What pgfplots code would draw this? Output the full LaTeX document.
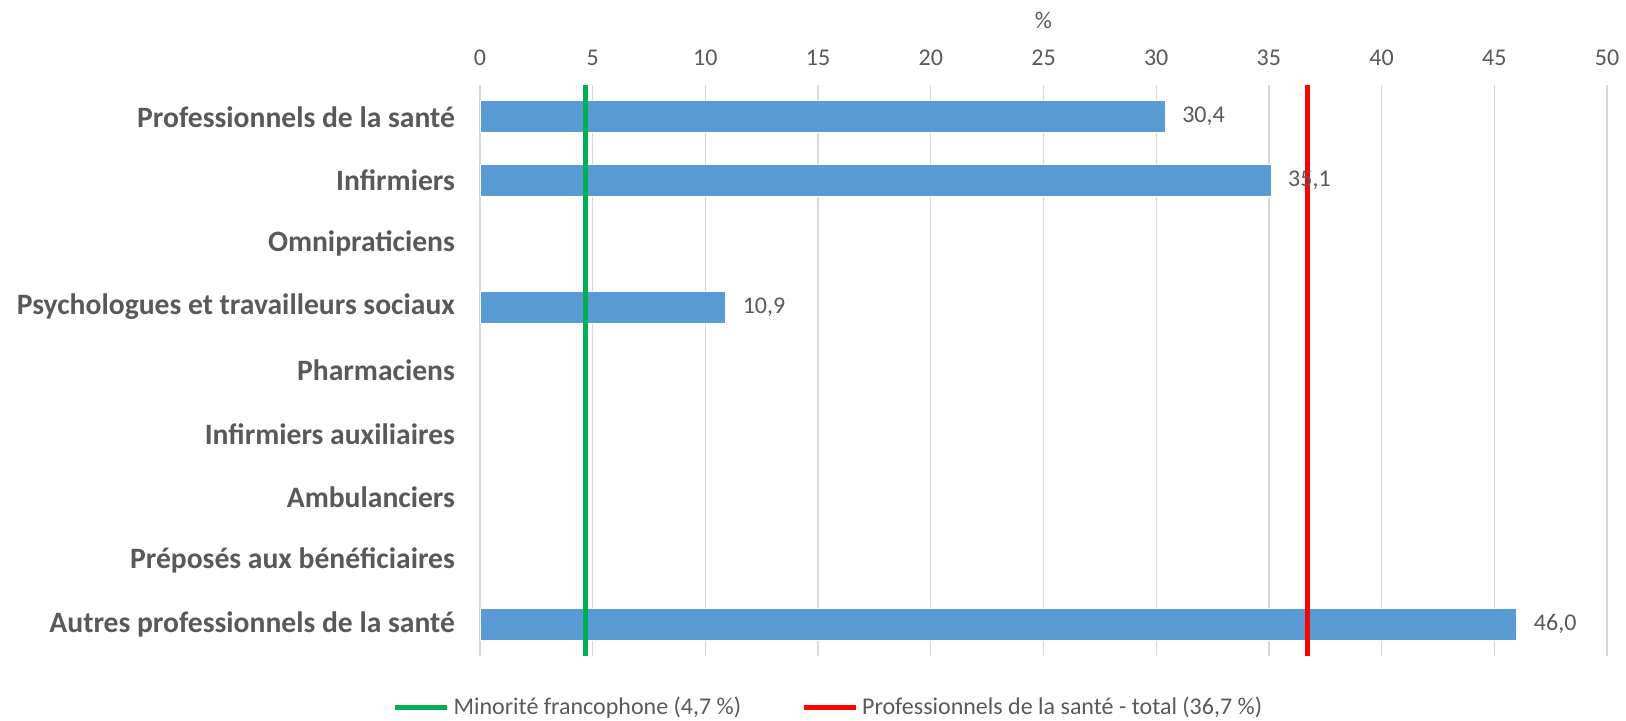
\documentclass[border=0pt]{standalone}
\usepackage{fontspec}
\setmainfont{Carlito}
\usepackage{pgfplots}
\pgfplotsset{compat=1.18}
\definecolor{txt}{HTML}{595959}
\definecolor{barblue}{HTML}{5B9BD5}
\definecolor{gridc}{HTML}{D9D9D9}
\definecolor{mingreen}{HTML}{00B050}
\definecolor{totred}{HTML}{FF0000}

\begin{document}
\begin{tikzpicture}
\begin{axis}[
  name=ax, scale only axis, width=563.5pt, height=285.5pt,
  xmin=0, xmax=50, ymin=-0.5, ymax=8.5, y dir=reverse,
  xtick={0,5,...,50}, xticklabel pos=upper,
  ytick={0,1,...,8},
  yticklabels={Professionnels de la santé, Infirmiers, Omnipraticiens,
    Psychologues et travailleurs sociaux, Pharmaciens, Infirmiers auxiliaires,
    Ambulanciers, Préposés aux bénéficiaires, Autres professionnels de la santé},
  yticklabel style={font=\fontsize{14.8}{17}\selectfont\bfseries, text=txt, xshift=-9pt},
  xticklabel style={font=\fontsize{12}{14}\selectfont, text=txt, yshift=6pt},
  /pgf/number format/assume math mode=true,
  xlabel={\%}, xlabel style={font=\fontsize{12}{14}\selectfont, text=txt, yshift=4pt},
  xmajorgrids, grid style={gridc, line width=0.6pt},
  tick style={draw=none}, axis line style={draw=none},
  legend columns=2,
  legend style={draw=none, fill=none, font=\fontsize{12}{14}\selectfont, text=txt,
    at={(axis description cs:0.31,-0.09)}, anchor=center,
    /tikz/every even column/.append style={column sep=28pt}},
  legend image code/.code={\draw[#1] (0pt,0pt) -- (26pt,0pt);},
]
\addplot[xbar, bar width=15.85pt, fill=barblue, draw=white, line width=0.4pt, forget plot,
  nodes near coords, nodes near coords align={horizontal},
  every node near coord/.append style={font=\fontsize{12}{14}\selectfont, text=txt, xshift=5pt},
  /pgf/number format/.cd, use comma, fixed, fixed zerofill, precision=1]
  coordinates {(30.4,0) (35.1,1) (10.9,3) (46.0,8)};
\addplot[mingreen, line width=2.5pt] coordinates {(4.7,-0.5) (4.7,8.5)};
\addlegendentry{Minorité francophone (4,7~\%)}
\addplot[totred, line width=2.5pt] coordinates {(36.7,-0.5) (36.7,8.5)};
\addlegendentry{Professionnels de la santé - total (36,7~\%)}
\end{axis}
\pgfresetboundingbox
\path[use as bounding box] ([xshift=-240pt, yshift=-32.5pt]ax.south west)
  rectangle ([xshift=9.5pt, yshift=42.5pt]ax.north east);
\end{tikzpicture}
\end{document}
